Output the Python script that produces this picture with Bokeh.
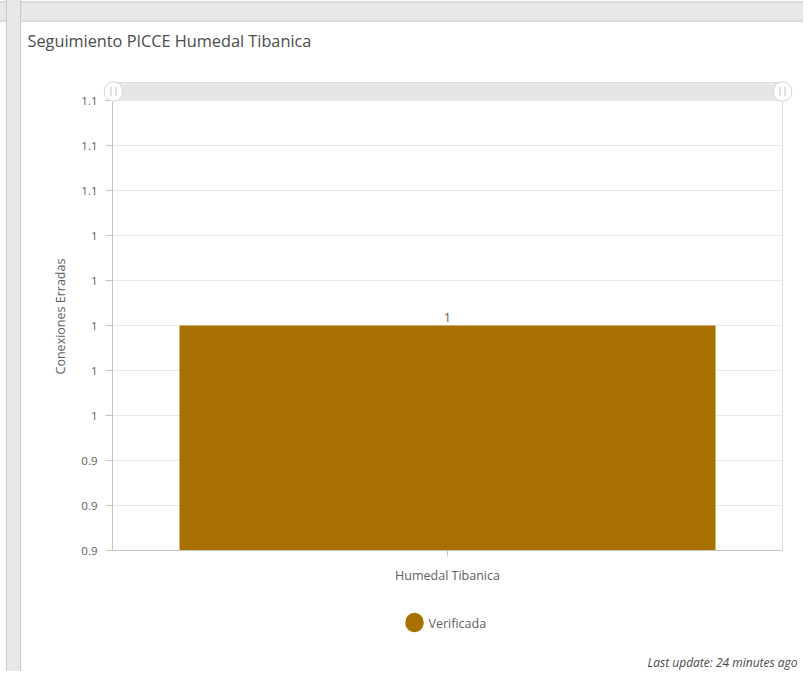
from bokeh.plotting import figure
from bokeh.models import (FactorRange, Range1d, FixedTicker, Label, LabelSet,
                          BoxAnnotation, ColumnDataSource)
from bokeh.core.properties import value
from bokeh.embed import file_html
from bokeh.resources import INLINE

# ---- data ----
categories = ["Humedal Tibanica"]
values = [1]
value_labels = ["1"]
series_name = "Verificada"
y_ticks = [0.9, 0.92, 0.94, 0.96, 0.98, 1.0, 1.02, 1.04, 1.06, 1.08, 1.1]
y_tick_labels = ["0.9", "0.9", "0.9", "1", "1", "1", "1", "1", "1.1", "1.1", "1.1"]
y_min, y_max = 0.9, 1.1
title_text = "Seguimiento PICCE Humedal Tibanica"
y_axis_title = "Conexiones Erradas"
footer_text = "Last update: 24 minutes ago"

BAR = "#A87000"
FONT = "Open Sans"
TXT = "#606060"
W, H = 803, 671
FL, FR, FT, FB = 112, 782, 82, 550      # frame edges (incl. scroll band on top)
BAND = 18                                 # scroll band height in px
y_top = y_max + (y_max - y_min) * BAND / (FB - FT - BAND)

p = figure(x_range=FactorRange(*categories), y_range=Range1d(y_min, y_top),
           width=W, height=H, output_backend="svg", toolbar_location=None,
           min_border_left=FL, min_border_right=W - FR, min_border_top=FT,
           min_border_bottom=H - FB, background_fill_color="white",
           border_fill_color="white")
p.outline_line_color = "#dcdcdc"

# scroll band (inside frame, above the value range)
p.add_layout(BoxAnnotation(bottom=y_max, top=y_top, fill_color="#e6e6e6",
                           fill_alpha=1, line_color=None, level="underlay"))

p.vbar(x=categories, top=values, width=0.8, fill_color=BAR, line_color=None)

src = ColumnDataSource(dict(x=categories, y=values, t=value_labels))
p.add_layout(LabelSet(x="x", y="y", text="t", source=src, y_offset=4,
                      text_align="center", text_baseline="alphabetic",
                      text_font=value(FONT), text_font_size="12px",
                      text_color="#555555"))

# axes
p.xgrid.grid_line_color = None
p.ygrid.grid_line_color = "#e8e8e8"
p.yaxis.ticker = FixedTicker(ticks=y_ticks)
p.yaxis.major_label_overrides = {t: l for t, l in zip(y_ticks, y_tick_labels)}
for ax in (p.xaxis, p.yaxis):
    ax.axis_line_color = "#c4c4c4"
    ax.major_tick_line_color = "#c4c4c4"
    ax.minor_tick_line_color = None
    ax.major_tick_in = 0
    ax.major_label_text_font = FONT
    ax.major_label_text_font_size = "11.5px"
    ax.major_label_text_color = TXT
p.xaxis.major_label_text_font_size = "12.5px"
p.yaxis.major_tick_out = 7
p.yaxis.major_label_standoff = 8
p.xaxis.major_tick_out = 6
p.xaxis.major_label_standoff = 10
p.yaxis.axis_label = y_axis_title
p.yaxis.axis_label_text_font = FONT
p.yaxis.axis_label_text_font_style = "normal"
p.yaxis.axis_label_text_font_size = "12.5px"
p.yaxis.axis_label_text_color = TXT
p.yaxis.axis_label_standoff = 9


def box(x, y, pl, pr, pt, pb, fill, line, radius=0):
    return Label(x=x, y=y, x_units="canvas", y_units="canvas", text=" ",
                 text_font=FONT, text_font_size="1px", text_color=fill,
                 text_align="center", text_baseline="middle",
                 padding=dict(left=pl, right=pr, top=pt, bottom=pb),
                 background_fill_color=fill, background_fill_alpha=1,
                 border_line_color=line, border_radius=radius)


def text(x, y, s, size, color=TXT, align="left", style="normal"):
    return Label(x=x, y=y, x_units="canvas", y_units="canvas", text=s,
                 text_font=FONT, text_font_size=size, text_color=color,
                 text_font_style=style, text_align=align, text_baseline="middle")


# card frame: top band and left strip (dashboard chrome)
p.add_layout(box(405, 11, 420, 420, 9, 9, "#e8e8e8", "#c9c9c9"), "above")
p.add_layout(box(13, 340, 7, 7, 345, 345, "#e8e8e8", "#c9c9c9"), "left")

# title
p.add_layout(text(27, 40, title_text, "16.3px", "#4a4a4a"), "above")

# scroll handles
p.add_layout(box(FL + 1, 91, 9, 9, 9, 9, "white", "#d4d4d4", 9), "left")
p.add_layout(text(FL + 1, 90, "||", "9px", "#a8a8a8", "center"), "left")
p.add_layout(box(FR, 91, 9, 9, 9, 9, "white", "#d4d4d4", 9), "below")
p.add_layout(text(FR, 90, "||", "9px", "#a8a8a8", "center"), "below")

# legend
p.add_layout(box(414, 622, 9, 9, 9, 9, BAR, None, 9), "below")
p.add_layout(text(428, 623, series_name, "12.5px"), "below")

# footer
p.add_layout(text(647, 662, footer_text, "12px", "#4a4a4a", style="italic"), "below")

open("out.html", "w").write(file_html(p, INLINE))
